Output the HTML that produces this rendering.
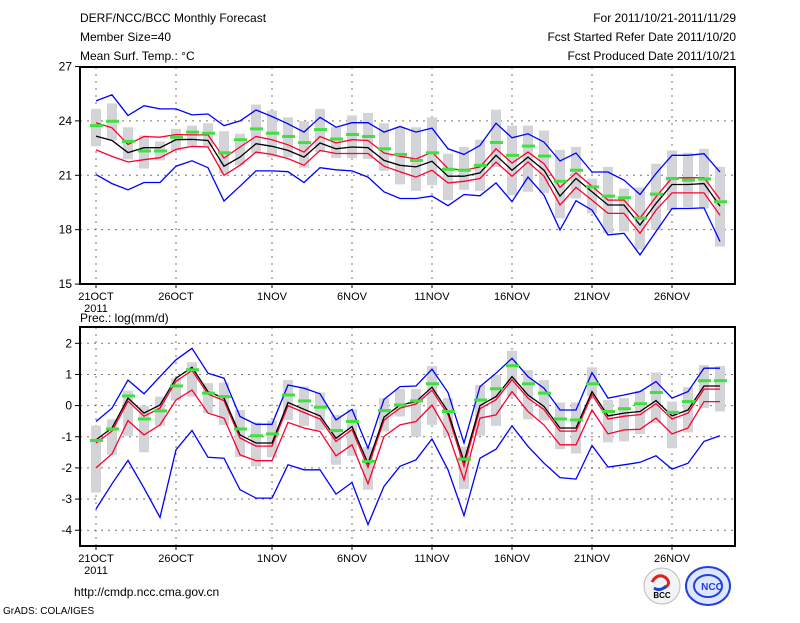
<!DOCTYPE html>
<html><head><meta charset="utf-8"><style>
body{margin:0;background:#fff;width:800px;height:618px;overflow:hidden;font-family:"Liberation Sans",sans-serif}
svg text{font-family:"Liberation Sans",sans-serif;font-size:12px;fill:#000}
</style></head><body>
<svg id="chart" width="800" height="618" xmlns="http://www.w3.org/2000/svg">
<text x="80" y="22">DERF/NCC/BCC Monthly Forecast</text>
<text x="80" y="41">Member Size=40</text>
<text x="80" y="60">Mean Surf. Temp.: °C</text>
<text x="736" y="22" text-anchor="end">For 2011/10/21-2011/11/29</text>
<text x="736" y="41" text-anchor="end">Fcst Started Refer Date 2011/10/20</text>
<text x="736" y="60" text-anchor="end">Fcst Produced Date 2011/10/21</text>
<text x="80" y="322">Prec.: log(mm/d)</text>
<text x="74" y="596" font-size="13">http://cmdp.ncc.cma.gov.cn</text>
<text x="3" y="614" style="font-size:10px">GrADS: COLA/IGES</text>
<g>
<circle cx="662" cy="586" r="18" fill="#f4f4f4" stroke="#bbb"/>
<path d="M652 582 q6 -10 14 -4 q6 6 -2 10" stroke="#e02020" stroke-width="3" fill="none"/>
<path d="M654 588 q6 4 12 -2" stroke="#2040d0" stroke-width="3" fill="none"/>
<text x="662" y="598" text-anchor="middle" style="font-size:8px;font-weight:bold">BCC</text>
</g>
<g>
<ellipse cx="708" cy="586" rx="22" ry="19" fill="#dfe6ff" stroke="#2040e0" stroke-width="2"/>
<ellipse cx="708" cy="586" rx="14" ry="11" fill="none" stroke="#2040e0" stroke-width="2"/>
<text x="712" y="590" text-anchor="middle" style="font-size:10px;font-weight:bold;fill:#2040e0">NCC</text>
</g>
<g id="top"></g><g id="bot"></g>
</svg>
<script>
// ---- Temperature panel data (day 0 = 21 Oct) ----
const tBlueHi=[25.1,25.44,24.3,24.84,24.66,24.66,24.33,24.38,23.74,24.0,24.6,24.24,23.84,23.38,24.2,23.65,23.9,23.9,23.38,23.69,23.38,23.6,22.46,22.15,22.65,23.87,23.07,23.29,22.83,21.79,22.23,21.18,21.18,20.73,19.94,21.1,22.1,22.1,22.19,21.18];
const tBlueLo=[21.04,20.54,20.2,20.6,20.6,21.5,21.8,21.42,19.58,20.4,21.24,21.24,21.2,20.6,21.42,21.3,21.24,20.9,20.09,19.72,19.72,19.85,19.32,19.94,19.87,20.58,19.54,20.9,19.9,17.99,19.6,19.08,17.71,17.8,16.61,17.9,19.17,19.17,19.2,17.35];
const tRedHi=[23.9,23.62,22.7,23.14,23.1,23.25,23.23,23.23,21.95,22.56,23.14,22.96,22.68,22.28,23.14,22.78,22.96,22.92,22.23,22.05,21.9,22.28,21.37,21.28,21.46,22.46,21.68,22.28,21.64,20.33,21.13,20.4,19.63,19.63,18.63,19.81,20.86,20.86,20.87,19.67];
const tRedLo=[22.4,22.04,21.73,21.86,21.97,22.43,22.6,22.56,21.0,21.55,22.28,22.15,21.92,21.55,22.37,22.2,22.2,22.2,21.5,21.2,20.9,21.28,20.58,20.67,20.82,21.73,20.95,21.73,20.95,19.36,20.33,19.63,18.9,18.9,17.8,19.08,20.03,20.03,20.03,18.8];
const tMean=[23.16,22.92,22.25,22.52,22.52,22.96,22.98,22.92,21.5,22.0,22.74,22.6,22.37,22.0,22.78,22.46,22.56,22.52,21.82,21.55,21.46,21.77,20.95,20.95,21.13,22.1,21.28,22.0,21.28,19.85,20.82,20.09,19.36,19.36,18.26,19.45,20.49,20.49,20.54,19.3];
const tBoxHi=[24.66,24.97,23.65,23.2,22.87,23.56,23.74,23.87,23.43,23.29,24.9,24.57,24.2,23.98,24.66,23.65,24.3,24.44,23.87,23.65,23.65,24.2,22.19,22.56,22.96,24.62,23.74,23.74,23.47,22.4,22.56,20.82,21.46,20.27,20.33,21.64,22.37,22.24,22.46,21.46];
const tBoxLo=[22.6,22.92,21.88,21.37,21.82,22.34,22.65,22.56,21.1,21.55,22.2,22.0,22.0,21.42,22.28,21.95,21.95,21.9,21.24,20.5,20.14,20.45,19.63,20.2,20.14,21.46,19.9,20.09,20.03,18.63,19.72,18.9,17.8,17.9,16.9,17.99,19.08,19.23,19.17,17.07];
const tGreen=[23.74,23.98,22.87,22.34,22.34,23.1,23.38,23.32,22.24,22.96,23.56,23.32,23.14,22.8,23.52,23.0,23.25,23.14,22.46,22.15,21.82,22.24,21.33,21.28,21.55,22.81,22.1,22.61,22.06,20.67,21.28,20.36,19.85,19.76,18.63,19.96,20.82,20.73,20.8,19.54];
const tTicks=[15,18,21,24,27];
// ---- Precipitation panel data ----
const pBlueHi=[-0.51,-0.08,0.82,0.38,0.93,1.47,1.84,1.04,0.88,-0.35,-0.6,-0.6,0.66,0.56,0.38,-0.46,-0.12,-1.37,0.2,0.61,0.63,1.17,0.42,-1.2,0.61,1.04,1.52,0.93,0.56,-0.14,-0.14,1.06,0.24,0.34,0.45,0.77,0.24,0.45,1.2,1.2];
const pBlueLo=[-3.32,-2.51,-1.76,-2.65,-3.59,-1.42,-0.8,-1.66,-1.69,-2.7,-2.97,-2.97,-1.9,-2.06,-2.06,-2.84,-2.47,-3.82,-2.59,-1.95,-1.74,-1.07,-2.06,-3.53,-1.69,-1.4,-0.65,-1.31,-1.85,-2.31,-2.36,-1.28,-1.97,-1.9,-1.82,-1.61,-2.04,-1.85,-1.15,-0.97];
const pMean=[-1.1,-0.72,0.24,-0.24,0.02,0.88,1.23,0.45,0.24,-0.94,-1.2,-1.2,0.1,-0.12,-0.33,-1.05,-0.67,-1.85,-0.37,0.02,0.13,0.59,-0.19,-1.79,0.0,0.29,0.93,0.34,-0.03,-0.72,-0.72,0.45,-0.33,-0.24,-0.19,0.16,-0.33,-0.14,0.63,0.63];
const pRedHi=[-1.2,-0.82,0.14,-0.34,-0.08,0.78,1.13,0.37,0.16,-1.04,-1.3,-1.3,0.0,-0.22,-0.43,-1.15,-0.77,-1.98,-0.47,-0.08,0.05,0.49,-0.29,-1.95,-0.1,0.19,0.83,0.24,-0.13,-0.82,-0.82,0.35,-0.43,-0.34,-0.29,0.06,-0.43,-0.24,0.53,0.53];
const pRedLo=[-2.0,-1.55,-0.48,-0.94,-0.62,0.18,0.5,-0.24,-0.4,-1.58,-1.77,-1.77,-0.54,-0.72,-0.83,-1.61,-1.26,-2.51,-0.99,-0.62,-0.51,0.02,-0.88,-2.38,-0.4,-0.3,0.45,-0.19,-0.62,-1.26,-1.26,-0.14,-0.91,-0.78,-0.76,-0.4,-0.91,-0.72,0.13,0.13];
const pBoxHi=[-0.65,-0.44,0.48,0.0,0.29,0.88,1.39,0.72,0.74,-0.14,-0.54,-0.48,0.82,0.61,0.42,-0.3,-0.12,-1.33,0.24,0.53,0.53,1.27,0.24,-1.31,0.66,0.98,1.76,1.14,0.82,0.1,0.1,1.23,0.18,0.24,0.48,1.06,0.13,0.59,1.3,1.27];
const pBoxLo=[-2.79,-1.58,-0.97,-1.5,-0.65,0.16,0.29,-0.24,-0.62,-1.65,-1.95,-1.66,-0.46,-0.65,-0.78,-1.9,-1.61,-2.7,-0.83,-0.35,-1.0,-0.62,-0.97,-2.68,-0.97,-0.65,0.29,-0.44,-0.48,-1.4,-1.54,0.31,-1.18,-1.15,-0.91,-0.57,-1.37,-0.86,-0.08,-0.19];
const pGreen=[-1.12,-0.75,0.31,-0.43,-0.17,0.63,1.15,0.4,0.29,-0.75,-0.97,-0.91,0.34,0.15,-0.05,-0.8,-0.51,-1.79,-0.16,0.02,0.15,0.7,-0.19,-1.72,0.18,0.54,1.28,0.7,0.4,-0.43,-0.46,0.7,-0.19,-0.1,0.06,0.42,-0.22,0.13,0.8,0.8];
const pTicks=[-4,-3,-2,-1,0,1,2];
const xTickDays=[0,5,11,16,21,26,31,36];
const xTickLabels=["21OCT","26OCT","1NOV","6NOV","11NOV","16NOV","21NOV","26NOV"];

const NS='http://www.w3.org/2000/svg';
const X0=80,X1=735;
function xs(d){return 96+d*16;}
function mk(parent,tag,attrs){const e=document.createElementNS(NS,tag);for(const k in attrs)e.setAttribute(k,attrs[k]);parent.appendChild(e);return e;}
function panel(g,top,bot,yf,ticks,S){
  const {blueHi,blueLo,redHi,redLo,mean,boxHi,boxLo,green,name}=S;
  // grid
  ticks.forEach(t=>{const y=yf(t);
    const l=mk(g,'line',{x1:X0,x2:X1,y1:y,y2:y,stroke:'#777','stroke-dasharray':'2,5'});
    
    
    const tk=mk(g,'line',{x1:X0-5,x2:X0,y1:y,y2:y,stroke:'#000'});
    
    
    const tx=mk(g,'text',{x:X0-8,y:y+4,'text-anchor':'end'});tx.textContent=t;
    
    
  });
  xTickDays.forEach((d,i)=>{const x=xs(d);
    const l=mk(g,'line',{x1:x,x2:x,y1:top,y2:bot,stroke:'#777','stroke-dasharray':'2,5'});
    
    
    const tk=mk(g,'line',{x1:x,x2:x,y1:bot,y2:bot+4,stroke:'#000'});
    
    
    const tx=mk(g,'text',{x:x,y:bot+16,'text-anchor':'middle',style:'font-size:11px'});tx.textContent=xTickLabels[i];
    
    
  });
  const yr=mk(g,'text',{x:xs(0),y:bot+28,'text-anchor':'middle',style:'font-size:11px'});yr.textContent='2011';
  
  
  // boxes
  boxHi.forEach((h,d)=>{const y1=yf(h),y2=yf(boxLo[d]);
    const r=mk(g,'rect',{x:xs(d)-5,y:y1,width:10,height:y2-y1,fill:'#d3d4d8'});
    
    
  });
  const line=(arr,col,nm)=>{const p=mk(g,'polyline',{points:arr.map((v,d)=>xs(d)+','+yf(v).toFixed(1)).join(' '),fill:'none',stroke:col,'stroke-width':1.3});
    
    };
  line(blueHi,'#0000ff',name+'-blue-upper-line');
  line(blueLo,'#0000ff',name+'-blue-lower-line');
  line(redHi,'#ff0030',name+'-red-upper-line');
  line(redLo,'#ff0030',name+'-red-lower-line');
  line(mean,'#000',name+'-ensemble-mean-line');
  green.forEach((v,d)=>{const r=mk(g,'rect',{x:xs(d)-6,y:yf(v)-1.5,width:13,height:3,fill:'#40e040'});
    
    
  });
  const f=mk(g,'rect',{x:X0,y:top,width:X1-X0,height:bot-top,fill:'none',stroke:'#000','stroke-width':2});
  
  
}
const tY=v=>66.5+(27-v)*18.13;
const pY=v=>343.3+(2-v)*31.15;
panel(document.getElementById('top'),67,284,tY,tTicks,{blueHi:tBlueHi,blueLo:tBlueLo,redHi:tRedHi,redLo:tRedLo,mean:tMean,boxHi:tBoxHi,boxLo:tBoxLo,green:tGreen,name:'temp'});
panel(document.getElementById('bot'),327,546,pY,pTicks,{blueHi:pBlueHi,blueLo:pBlueLo,redHi:pRedHi,redLo:pRedLo,mean:pMean,boxHi:pBoxHi,boxLo:pBoxLo,green:pGreen,name:'precip'});
</script>
</body></html>
